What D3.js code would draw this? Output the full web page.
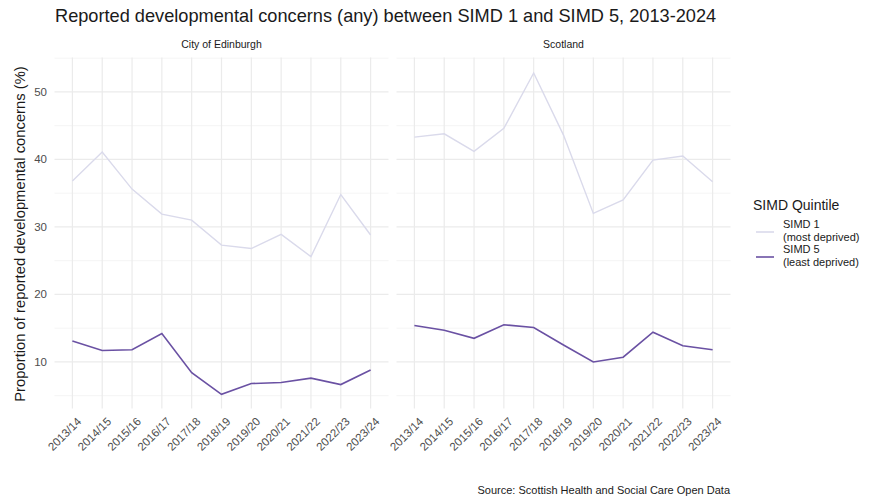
<!DOCTYPE html>
<html>
<head>
<meta charset="utf-8">
<script src="https://cdn.jsdelivr.net/npm/d3@7"></script>
<style>
  body { margin: 0; background: #fff; }
  text { font-family: "Liberation Sans", Arial, sans-serif; }
</style>
</head>
<body>
<svg id="chart" width="886" height="498"></svg>
<script>
// data
var years = ["2013/14", "2014/15", "2015/16", "2016/17", "2017/18", "2018/19",
             "2019/20", "2020/21", "2021/22", "2022/23", "2023/24"];
var panels = ["City of Edinburgh", "Scotland"];
var edinburghSimd1 = [36.8, 41.1, 35.6, 31.9, 31.0, 27.3, 26.8, 28.9, 25.6, 34.8, 28.8];
var edinburghSimd5 = [13.1, 11.7, 11.8, 14.2, 8.4, 5.2, 6.8, 6.95, 7.6, 6.65, 8.8];
var scotlandSimd1 = [43.3, 43.8, 41.2, 44.6, 52.8, 43.6, 32.0, 34.0, 39.9, 40.5, 36.7];
var scotlandSimd5 = [15.4, 14.7, 13.5, 15.5, 15.1, 12.5, 10.0, 10.7, 14.4, 12.4, 11.8];
var yTicks = [10, 20, 30, 40, 50];
var yMinor = [5, 15, 25, 35, 45, 55];
var seriesNames = ["SIMD 1", "SIMD 5"];
var seriesSub = ["(most deprived)", "(least deprived)"];
var seriesColors = ["#dadaeb", "#6a51a3"];

var svg = d3.select("#chart");

var panelLeft = [54.5, 396.5];
var panelW = 334;
var plotTop = 57.5, plotBottom = 408.5;

var y = d3.scaleLinear().domain([3.1, 55.1]).range([plotBottom, plotTop]);

var panelData = [
  [edinburghSimd1, edinburghSimd5],
  [scotlandSimd1, scotlandSimd5]
];

var line = d3.line();

panels.forEach(function (name, pi) {
  var x = d3.scalePoint().domain(years)
    .range([panelLeft[pi], panelLeft[pi] + panelW]).padding(0.6);

  var g = svg.append("g");

  // minor grid
  g.selectAll(".minor")
    .data(yMinor.filter(v => y(v) >= plotTop && y(v) <= plotBottom))
    .enter().append("line")
    .attr("x1", panelLeft[pi]).attr("x2", panelLeft[pi] + panelW)
    .attr("y1", d => y(d)).attr("y2", d => y(d))
    .style("stroke", "#f3f3f3").style("stroke-width", 0.8);

  // major grid
  g.selectAll(".major")
    .data(yTicks)
    .enter().append("line")
    .attr("x1", panelLeft[pi]).attr("x2", panelLeft[pi] + panelW)
    .attr("y1", d => y(d)).attr("y2", d => y(d))
    .style("stroke", "#ebebeb").style("stroke-width", 1.2);

  g.selectAll(".vgrid")
    .data(years)
    .enter().append("line")
    .attr("x1", d => x(d)).attr("x2", d => x(d))
    .attr("y1", plotTop).attr("y2", plotBottom)
    .style("stroke", "#ebebeb").style("stroke-width", 1.2);

  // strip title
  g.append("text")
    .attr("x", panelLeft[pi] + panelW / 2)
    .attr("y", 48)
    .attr("text-anchor", "middle")
    .style("font-size", "10.5px")
    .style("fill", "#1a1a1a")
    .text(name);

  // x tick labels
  g.selectAll(".xlab")
    .data(years)
    .enter().append("text")
    .attr("transform", d => "translate(" + (x(d) + 4) + "," + (plotBottom + 8) + ") rotate(-45)")
    .attr("text-anchor", "end")
    .attr("dy", "0.7em")
    .style("font-size", "11.5px")
    .style("fill", "#4d4d4d")
    .text(d => d);

  // series
  panelData[pi].forEach(function (vals, si) {
    g.append("path")
      .datum(vals)
      .attr("d", line.x((d, i) => x(years[i])).y(d => y(d)))
      .style("fill", "none")
      .style("stroke", seriesColors[si])
      .style("stroke-width", si === 0 ? 1.4 : 1.6);
  });
});

// y tick labels
svg.selectAll(".ylab")
  .data(yTicks)
  .enter().append("text")
  .attr("x", 47)
  .attr("y", d => y(d))
  .attr("dy", "0.35em")
  .attr("text-anchor", "end")
  .style("font-size", "11.5px")
  .style("fill", "#4d4d4d")
  .text(d => d);

// y axis title
svg.append("text")
  .attr("transform", "translate(25,234) rotate(-90)")
  .attr("text-anchor", "middle")
  .style("font-size", "14.8px")
  .style("fill", "#1a1a1a")
  .text("Proportion of reported developmental concerns (%)");

// title
svg.append("text")
  .attr("x", 55)
  .attr("y", 22)
  .style("font-size", "18.2px")
  .style("fill", "#1a1a1a")
  .text("Reported developmental concerns (any) between SIMD 1 and SIMD 5, 2013-2024");

// legend
var legend = svg.append("g");
legend.append("text")
  .attr("x", 753).attr("y", 210)
  .style("font-size", "14px")
  .style("fill", "#1a1a1a")
  .text("SIMD Quintile");

seriesNames.forEach(function (s, i) {
  var cy = 232 + i * 25;
  legend.append("line")
    .attr("x1", 756).attr("x2", 774)
    .attr("y1", cy).attr("y2", cy)
    .style("stroke", seriesColors[i]).style("stroke-width", 1.6);
  legend.append("text")
    .attr("x", 783).attr("y", cy - 4)
    .style("font-size", "11px").style("fill", "#1a1a1a")
    .text(s);
  legend.append("text")
    .attr("x", 783).attr("y", cy + 9)
    .style("font-size", "11px").style("fill", "#1a1a1a")
    .text(seriesSub[i]);
});

// caption
svg.append("text")
  .attr("x", 730).attr("y", 494)
  .attr("text-anchor", "end")
  .style("font-size", "11px")
  .style("fill", "#1a1a1a")
  .text("Source: Scottish Health and Social Care Open Data");
</script>
</body>
</html>
